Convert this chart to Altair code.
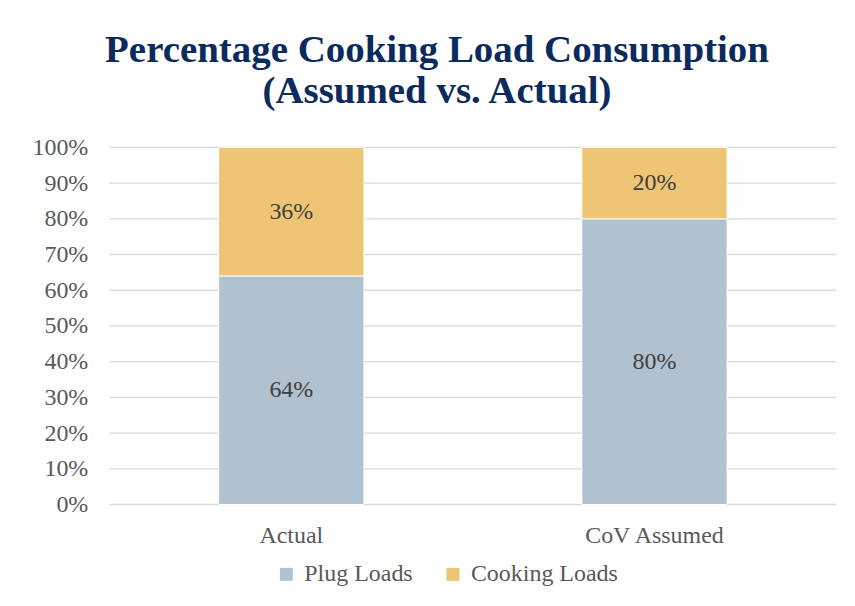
import altair as alt
import pandas as pd

categories = ["Actual", "CoV Assumed"]
series = ["Plug Loads", "Cooking Loads"]
plug_loads = [0.64, 0.80]
cooking_loads = [0.36, 0.20]
colors = ["#B0C1CF", "#EDC574"]
tick_values = [0.0, 0.1, 0.2, 0.3, 0.4, 0.5, 0.6, 0.7, 0.8, 0.9, 1.0]

rows = []
for i, c in enumerate(categories):
    rows.append({"cat": c, "series": series[0], "value": plug_loads[i], "order": 0})
    rows.append({"cat": c, "series": series[1], "value": cooking_loads[i], "order": 1})
df = pd.DataFrame(rows)
grid_df = pd.DataFrame({"tick": tick_values})

font = "Liberation Serif"
fs = 24

yscale = alt.Scale(domain=[0, 1], nice=False)

grid = alt.Chart(grid_df).mark_rule(color="#D9D9D9", strokeWidth=1.3).encode(
    y=alt.Y("tick:Q", scale=yscale,
            axis=alt.Axis(title=None, format=".0%", values=tick_values,
                          labelFontSize=fs, labelColor="#595959", labelFont=font,
                          labelOverlap=False, labelBaseline="middle", grid=False,
                          domain=False, ticks=False, labelPadding=22)),
)

base = alt.Chart(df).encode(
    x=alt.X("cat:N", sort=categories,
            scale=alt.Scale(paddingInner=0.6, paddingOuter=0.3),
            axis=alt.Axis(title=None, labelAngle=0, labelFontSize=fs, labelColor="#595959",
                          labelFont=font, domain=False, ticks=False, labelPadding=19,
                          grid=False)),
)

bars = base.mark_bar(stroke="white", strokeWidth=1).encode(
    y=alt.Y("value:Q", stack="zero", scale=yscale, axis=None),
    color=alt.Color("series:N", sort=series,
                    scale=alt.Scale(domain=series, range=colors),
                    legend=alt.Legend(title=None, orient="none", direction="horizontal",
                                      legendX=165, legendY=416,
                                      labelFontSize=fs, labelColor="#595959", labelFont=font,
                                      symbolType="square", symbolSize=169, symbolStrokeWidth=0,
                                      labelOffset=6, columnPadding=28)),
    order=alt.Order("order:Q"),
)

labels = base.mark_text(fontSize=fs, color="#404040", font=font).encode(
    y=alt.Y("value:Q", stack="zero", bandPosition=0.5, axis=None),
    text=alt.Text("value:Q", format=".0%"),
    detail="series:N",
    order=alt.Order("order:Q"),
)

chart = alt.layer(grid, bars, labels).resolve_axis(y="independent").properties(
    width=728, height=358,
    title=alt.TitleParams(
        ["Percentage Cooking Load Consumption", "(Assumed vs. Actual)"],
        fontSize=39, font=font, fontWeight="bold", color="#0B2A5E",
        anchor="middle", offset=24, lineHeight=42, dx=-36,
    ),
    padding={"left": 24, "top": 22, "right": 10, "bottom": 10},
).configure(background="white", view=alt.ViewConfig(strokeWidth=0, stroke="transparent"))

chart.save("out.html", embed_options={"renderer": "svg", "actions": False})
